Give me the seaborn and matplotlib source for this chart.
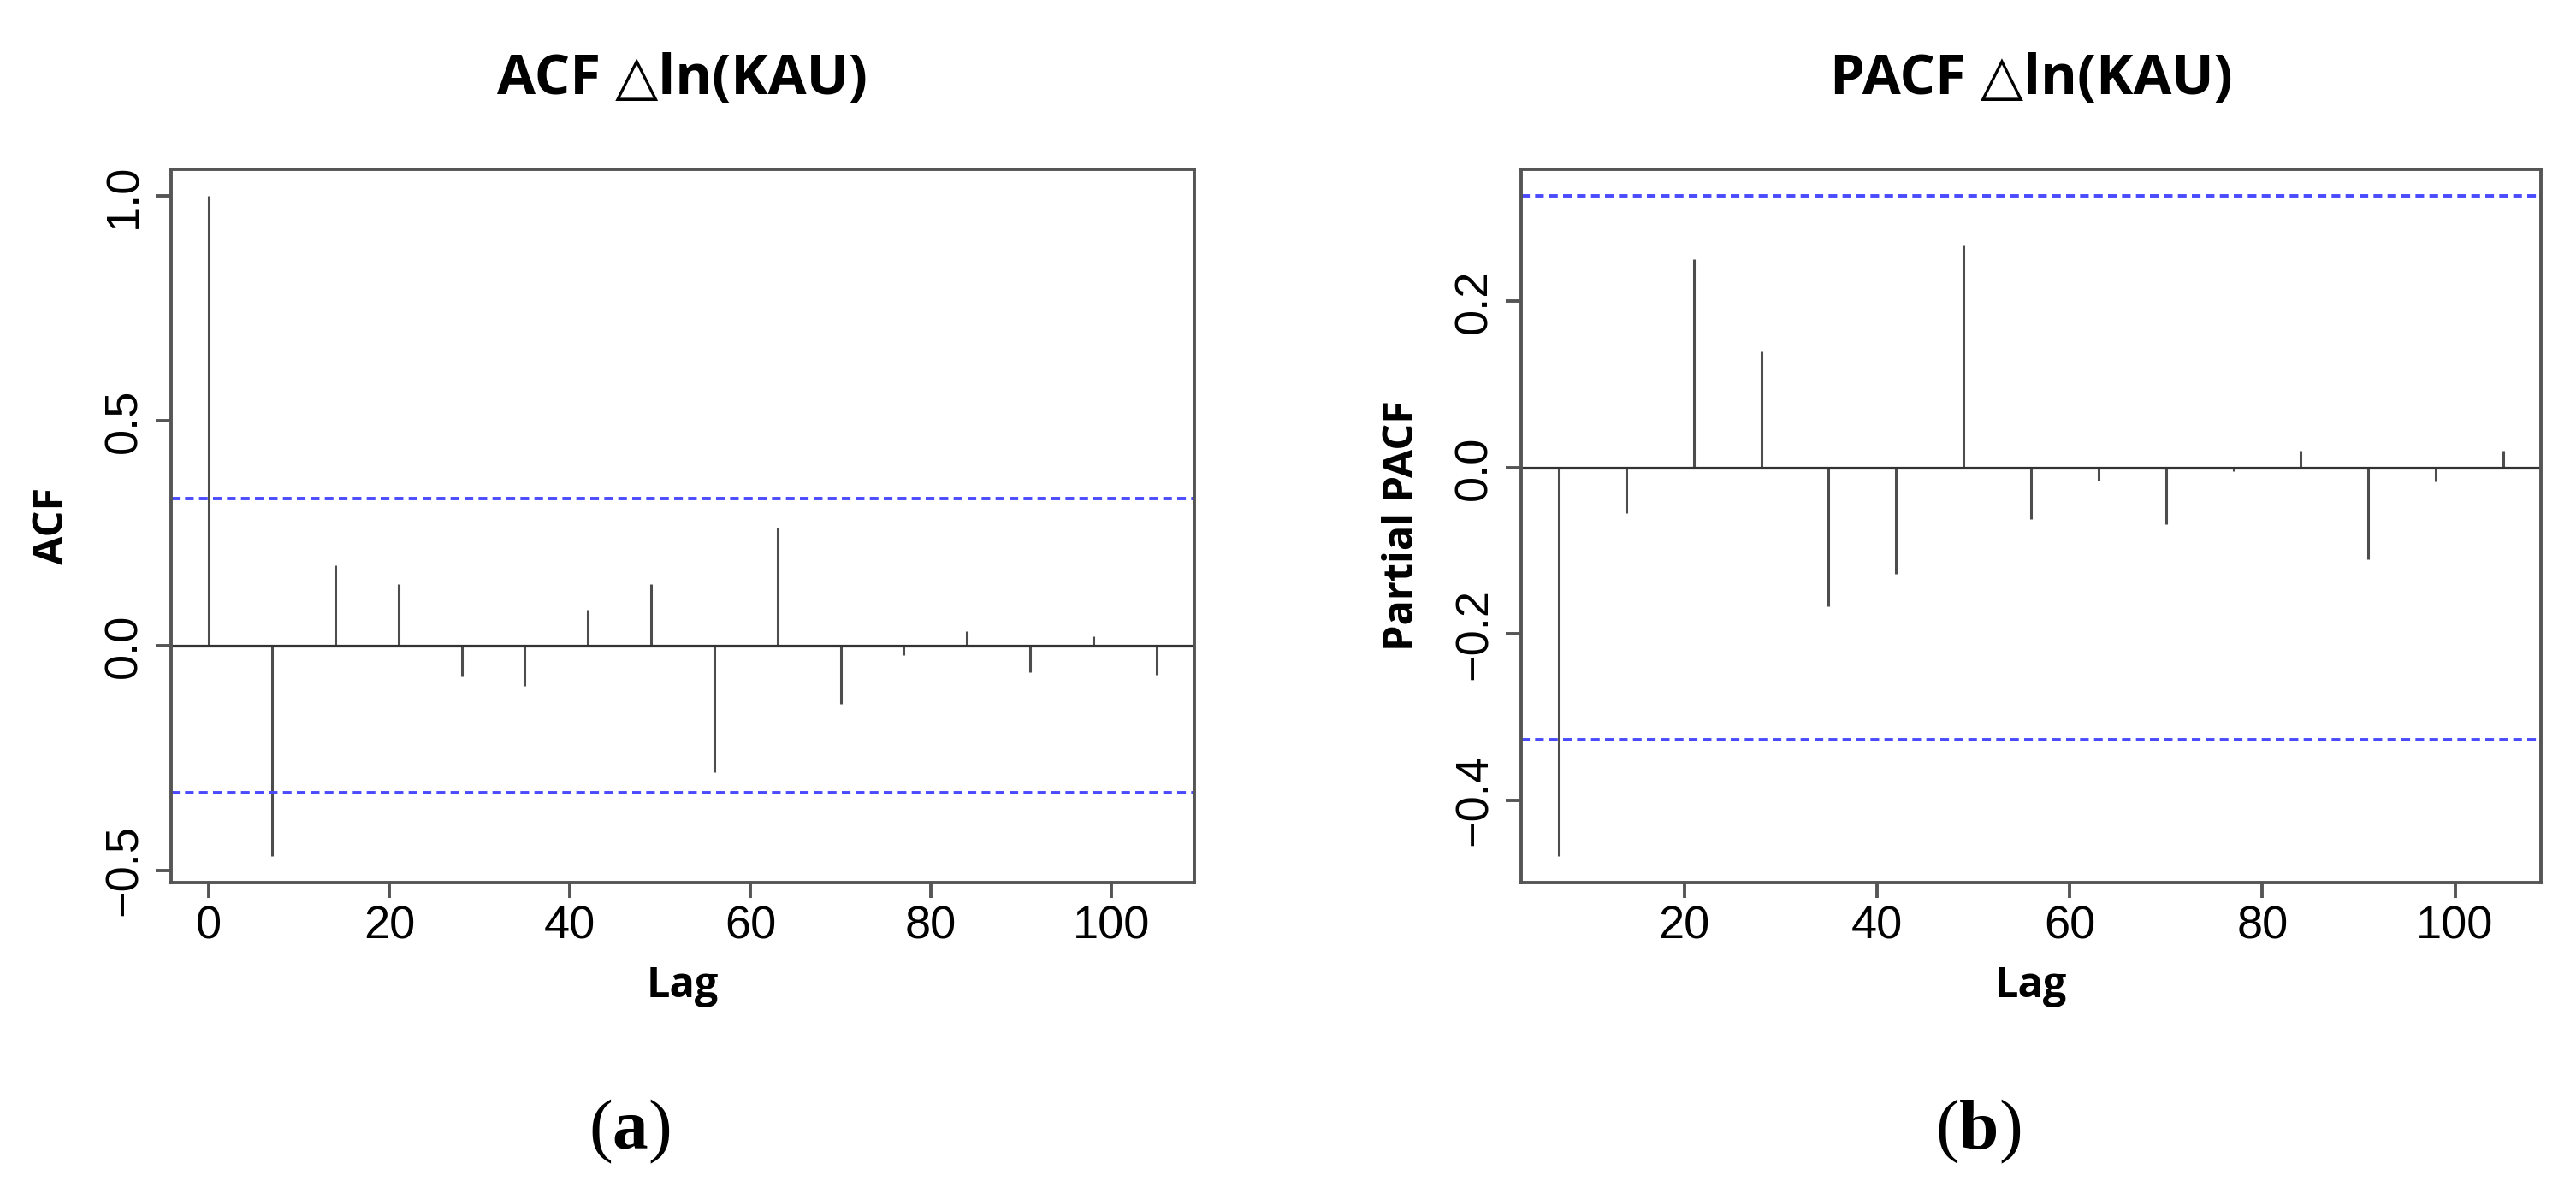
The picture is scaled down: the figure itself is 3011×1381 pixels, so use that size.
import matplotlib
matplotlib.use("Agg")
import matplotlib.pyplot as plt
from matplotlib.ticker import FixedLocator, FuncFormatter
import seaborn as sns

# ---------------- data ----------------
acf_lags = [0, 7, 14, 21, 28, 35, 42, 49, 56, 63, 70, 77, 84, 91, 98, 105]
acf_vals = [1.0, -0.468, 0.179, 0.137, -0.069, -0.089, 0.079, 0.137,
            -0.281, 0.263, -0.130, -0.022, 0.033, -0.059, 0.020, -0.064]

pacf_lags = [7, 14, 21, 28, 35, 42, 49, 56, 63, 70, 77, 84, 91, 98, 105]
pacf_vals = [-0.467, -0.055, 0.251, 0.140, -0.167, -0.128, 0.267, -0.062,
             -0.015, -0.068, -0.004, 0.020, -0.110, -0.017, 0.020]

conf_bounds = [0.327, -0.327]

acf_yticks = [-0.5, 0.0, 0.5, 1.0]
acf_xticks = [0, 20, 40, 60, 80, 100]
pacf_yticks = [-0.4, -0.2, 0.0, 0.2]
pacf_xticks = [20, 40, 60, 80, 100]

titles = ["ACF \u25b3ln(KAU)", "PACF \u25b3ln(KAU)"]
ylabels = ["ACF", "Partial PACF"]
xlabel = "Lag"
panel_tags = ["a", "b"]

# ---------------- style ----------------
sns.set_theme(style="white")
plt.rcParams["font.family"] = ["Liberation Sans", "DejaVu Sans"]
plt.rcParams["text.color"] = "black"
plt.rcParams["mathtext.fontset"] = "custom"
plt.rcParams["mathtext.rm"] = "Liberation Serif"
plt.rcParams["mathtext.bf"] = "Liberation Serif:bold"

W, H = 3011, 1381
fig = plt.figure(figsize=(W / 100, H / 100), dpi=100)
fig.patch.set_facecolor("white")


def fx(px):
    return px / W


def fy(py):
    return 1 - py / H


AX_TOP, AX_BOT = 198, 1032
boxes = [(200, 1396), (1778, 2970)]

SPINE_C = "#555555"
STEM_C = "#4d4d4d"
BLUE = "#4a4aff"


def fmt(v, pos):
    return f"{v:.1f}".replace("-", "\u2212")


def make_panel(i, lags, vals, yticks, xticks):
    x0, x1 = boxes[i]
    ax = fig.add_axes([fx(x0), fy(AX_BOT), fx(x1 - x0), (AX_BOT - AX_TOP) / H])
    ax.set_facecolor("white")
    # R-style 4% extended limits
    lo_x, hi_x = min(lags), max(lags)
    dx = (hi_x - lo_x) * 0.04
    ax.set_xlim(lo_x - dx, hi_x + dx)
    allv = list(vals) + conf_bounds
    lo_y, hi_y = min(allv), max(allv)
    dy = (hi_y - lo_y) * 0.04
    ax.set_ylim(lo_y - dy, hi_y + dy)

    ax.vlines(lags, 0, vals, color=STEM_C, linewidth=2.2)
    ax.axhline(0, color="#333333", linewidth=2.3)
    for b in conf_bounds:
        ax.axhline(b, color=BLUE, linewidth=2.8, linestyle=(0, (2.6, 1.6)))

    for s in ax.spines.values():
        s.set_visible(True)
        s.set_color(SPINE_C)
        s.set_linewidth(2.8)

    ax.xaxis.set_major_locator(FixedLocator(xticks))
    ax.yaxis.set_major_locator(FixedLocator(yticks))
    ax.xaxis.set_major_formatter(FuncFormatter(lambda v, p: f"{v:g}"))
    ax.yaxis.set_major_formatter(FuncFormatter(fmt))
    ax.tick_params(axis="both", which="major", direction="out", length=13,
                   width=2.8, color=SPINE_C, labelsize=39, labelcolor="black",
                   bottom=True, left=True)
    ax.tick_params(axis="x", pad=6)
    ax.tick_params(axis="y", pad=8)
    for lab in ax.get_yticklabels():
        lab.set_rotation(90)
        lab.set_va("center")
        lab.set_ha("right")
    ax.grid(False)

    cx = (x0 + x1) / 2
    fig.text(fx(cx), fy(110), titles[i], ha="center", va="baseline",
             fontsize=47, fontweight="bold", color="black",
             family=["Open Sans", "DejaVu Sans"])
    fig.text(fx(cx), fy(1166), xlabel, ha="center", va="baseline",
             fontsize=35, fontweight="bold", color="black",
             family=["Open Sans", "DejaVu Sans"])
    ylab_x = x0 - 138
    fig.text(fx(ylab_x), fy((AX_TOP + AX_BOT) / 2), ylabels[i], ha="center",
             va="center", rotation=90, fontsize=35, fontweight="bold",
             color="black", family=["Open Sans", "DejaVu Sans"])
    fig.text(fx(cx - 62), fy(1343), "($\\mathbf{" + panel_tags[i] + "}$)",
             ha="center", va="baseline", fontsize=60, color="black",
             family=["Liberation Serif", "DejaVu Serif"])
    return ax


make_panel(0, acf_lags, acf_vals, acf_yticks, acf_xticks)
make_panel(1, pacf_lags, pacf_vals, pacf_yticks, pacf_xticks)

fig.savefig("out.png", dpi=100, facecolor="white")
